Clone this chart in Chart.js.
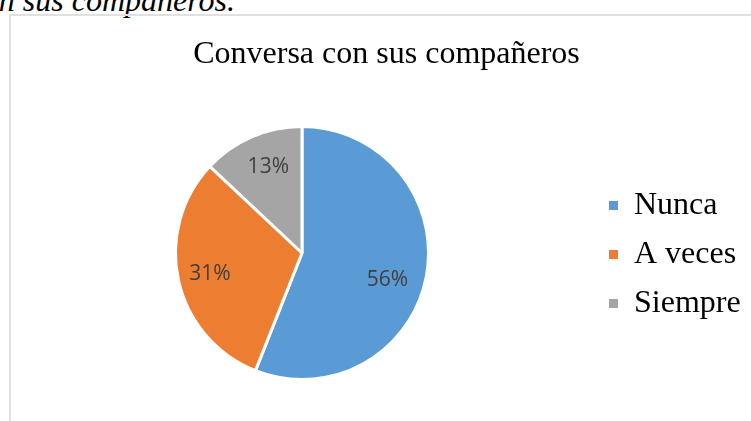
<!DOCTYPE html>
<html>
<head>
<meta charset="utf-8">
<script src="https://cdn.jsdelivr.net/npm/chart.js@4/dist/chart.umd.min.js"></script>
<style>
  html, body { margin: 0; padding: 0; background: #fff; overflow: hidden; width: 751px; height: 421px; }
  #caption {
    position: absolute; right: 516px; top: -16px;
    font: italic 32px/32px "Liberation Serif", serif; color: #000; white-space: nowrap;
  }
  #frame {
    position: absolute; left: 9px; top: 14px; width: 800px; height: 500px;
    border: 2px solid #e0e0e0; box-sizing: border-box;
  }
  #chart { position: absolute; left: 0; top: 0; }
</style>
</head>
<body>
<div id="caption">Conversa con sus compañeros.</div>
<div id="frame"></div>
<canvas id="chart" width="780" height="421"></canvas>
<script>
// Data (percent of answers)
const categories = ['Nunca', 'A veces', 'Siempre'];
const values = [56, 31, 13];
const sliceColors = ['#5B9BD5', '#ED7D31', '#A5A5A5'];

// label placement inside each slice (fraction of radius, angle nudge in degrees)
const labelRadius = [0.71, 0.745, 0.73];
const labelNudge = [7, 0, 2];

const sliceLabels = {
    id: 'sliceLabels',
    afterDatasetsDraw(chart) {
        const ctx = chart.ctx;
        const meta = chart.getDatasetMeta(0);
        const total = values.reduce((a, b) => a + b, 0);
        ctx.save();
        ctx.font = '21px "Open Sans", sans-serif';
        ctx.fillStyle = '#404040';
        ctx.textAlign = 'center';
        ctx.textBaseline = 'middle';
        meta.data.forEach((arc, i) => {
            const p = arc.getProps(['x', 'y', 'startAngle', 'endAngle', 'outerRadius'], true);
            const mid = (p.startAngle + p.endAngle) / 2 + labelNudge[i] * Math.PI / 180;
            const r = p.outerRadius * labelRadius[i];
            const pct = Math.round(values[i] / total * 100) + '%';
            ctx.fillText(pct, p.x + Math.cos(mid) * r, p.y + Math.sin(mid) * r);
        });
        ctx.restore();
    }
};

const ctx = document.getElementById('chart').getContext('2d');
new Chart(ctx, {
    type: 'pie',
    data: {
        labels: categories,
        datasets: [{
            data: values,
            backgroundColor: sliceColors,
            borderColor: '#ffffff',
            borderWidth: 3,
            hoverBorderWidth: 3,
            hoverOffset: 0,
            offset: 0
        }]
    },
    options: {
        responsive: false,
        animation: false,
        events: [],
        layout: { padding: { left: 12, right: 19, top: 0, bottom: 40 } },
        plugins: {
            title: {
                display: true,
                text: 'Conversa con sus compañeros',
                color: '#000',
                font: { family: '"Liberation Serif", serif', size: 32, weight: 'normal' },
                padding: { top: 35, bottom: 51.6 }
            },
            legend: {
                position: 'right',
                align: 'start',
                maxWidth: 169,
                // empty legend title, used only to push the items down to the pie's middle
                title: { display: true, text: '', font: { size: 10 }, padding: { top: 160.5, bottom: 0 } },
                labels: {
                    color: '#000',
                    font: { family: '"Liberation Serif", serif', size: 32 },
                    boxWidth: 9,
                    boxHeight: 9,
                    padding: 17,
                    generateLabels(chart) {
                        const items = Chart.overrides.pie.plugins.legend.labels.generateLabels(chart);
                        // pad the text so the legend box is wide enough; maxWidth trims it back
                        items.forEach(it => { it.lineWidth = 0; it.text = it.text + '\u00a0\u00a0\u00a0\u00a0'; });
                        return items;
                    }
                }
            },
            tooltip: { enabled: false }
        }
    },
    plugins: [sliceLabels]
});
</script>
</body>
</html>
